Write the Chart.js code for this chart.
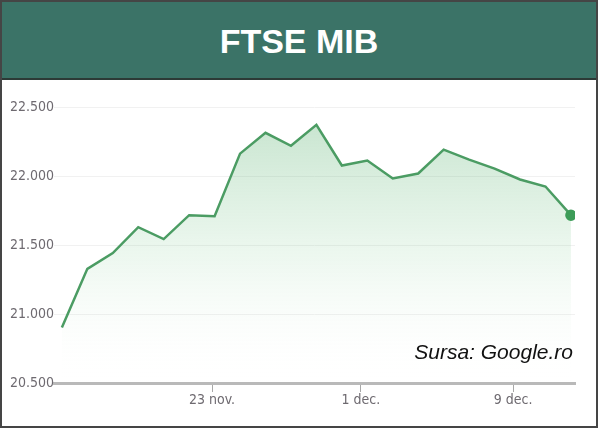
<!DOCTYPE html>
<html>
<head>
<meta charset="utf-8">
<script src="https://cdn.jsdelivr.net/npm/chart.js@4"></script>
<style>
  html, body { margin: 0; padding: 0; background: #fff; }
  #frame {
    position: absolute; left: 0; top: 0;
    width: 598px; height: 428px;
    box-sizing: border-box;
    border: 2px solid #454545;
    background: #fff;
  }
  #head {
    position: absolute; left: 0; top: 0; right: 0;
    height: 76px;
    background: #3b7367;
    border-bottom: 2px solid #2c3a36;
    color: #fff;
    font: bold 34px "Liberation Sans", Arial, sans-serif;
    text-align: center;
    line-height: 78px;
  }
  #wrap {
    position: absolute; left: 0; top: 78px;
    width: 594px; height: 346px;
  }
  #source {
    position: absolute; right: 27px; top: 340px;
    font: italic 21px "Liberation Sans", Arial, sans-serif;
    color: #111;
  }
</style>
</head>
<body>
<div id="frame">
  <div id="head">FTSE MIB</div>
  <div id="wrap"><canvas id="chart"></canvas></div>
</div>
<div id="source">Sursa: Google.ro</div>
<script>
// FTSE MIB daily closes, one per trading session
const closes = [
  20903, 21327, 21442, 21629, 21543, 21716, 21709,
  22162, 22313, 22219, 22371, 22076, 22112, 21982,
  22018, 22191, 22119, 22054, 21975, 21924, 21716
];
// date labels on the x axis and where they fall (in session units)
const dateLabels = ["23 nov.", "1 dec.", "9 dec."];
const datePos = [5.9, 11.75, 17.73];
const yTicks = [20500, 21000, 21500, 22000, 22500];

const points = closes.map((v, i) => ({ x: i, y: v }));
const fmt = v => String(v).replace(/(\d+)(\d{3})$/, "$1.$2");
const tickFont = { family: "'DejaVu Sans Condensed', 'Liberation Sans', sans-serif", size: 14 };

const ctx = document.getElementById("chart");
new Chart(ctx, {
  type: "line",
  data: {
    datasets: [{
      data: points,
      borderColor: "#4b9c63",
      borderWidth: 2.5,
      tension: 0,
      pointRadius: points.map((p, i) => i === points.length - 1 ? 4.5 : 0),
      pointBackgroundColor: "#3d9c58",
      pointBorderColor: "#3d9c58",
      fill: "start",
      backgroundColor: (c) => {
        const area = c.chart.chartArea;
        if (!area) return "rgba(80,170,100,0.15)";
        const g = c.chart.ctx.createLinearGradient(0, area.top, 0, area.bottom);
        g.addColorStop(0, "rgba(70,165,95,0.32)");
        g.addColorStop(0.55, "rgba(110,195,130,0.12)");
        g.addColorStop(1, "rgba(255,255,255,0)");
        return g;
      }
    }]
  },
  options: {
    responsive: true,
    maintainAspectRatio: false,
    animation: false,
    layout: { padding: { top: 27, right: 21, left: 0, bottom: 0 } },
    plugins: { legend: { display: false }, tooltip: { enabled: false } },
    scales: {
      x: {
        type: "linear",
        min: -0.31,
        max: 20.16,
        afterBuildTicks: (s) => { s.ticks = datePos.map(v => ({ value: v })); },
        afterFit: (s) => { s.height = 43; },
        border: { color: "#b9b9b9", width: 3 },
        grid: { drawOnChartArea: false, drawTicks: true, tickLength: 9, tickColor: "#a8a8a8", tickWidth: 1 },
        ticks: {
          autoSkip: false,
          maxRotation: 0,
          padding: 0,
          color: "#6e6a70",
          font: tickFont,
          callback: (v, i) => dateLabels[i]
        }
      },
      y: {
        min: 20500,
        max: 22500,
        afterBuildTicks: (s) => { s.ticks = yTicks.map(v => ({ value: v })); },
        afterFit: (s) => { s.width = 52; },
        border: { display: false },
        grid: { color: "#f1f1f1", drawTicks: false, lineWidth: 1 },
        ticks: {
          padding: 0,
          color: "#6e6a70",
          font: tickFont,
          callback: (v) => fmt(v)
        }
      }
    }
  }
});
</script>
</body>
</html>
